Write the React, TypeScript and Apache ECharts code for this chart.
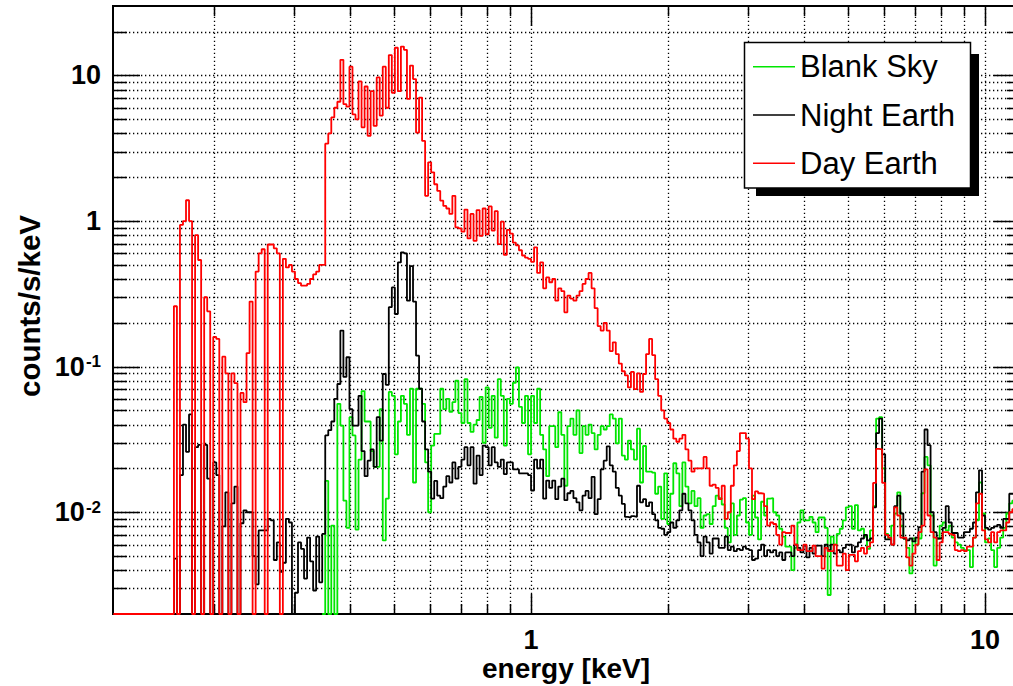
import React, { useEffect, useRef } from 'react';
import * as echarts from 'echarts';

const FONT = '"Liberation Sans", Arial, Helvetica, sans-serif';

// Logarithmic energy channels (keV): edge k = 10^(LOG_E_MIN + k * BIN_DEX)
const LOG_E_MIN = -0.92;
const BIN_DEX = 2 / 300;

const X_MIN = 0.12;
const X_MAX = 12;
const Y_MIN = 0.002;
const Y_MAX = 30;

const xTickValues = [0.2, 0.3, 0.4, 0.5, 0.6, 0.7, 0.8, 0.9, 1, 2, 3, 4, 5, 6, 7, 8, 9, 10];
const yTickValues = [
  0.003, 0.004, 0.005, 0.006, 0.007, 0.008, 0.009,
  0.01, 0.02, 0.03, 0.04, 0.05, 0.06, 0.07, 0.08, 0.09,
  0.1, 0.2, 0.3, 0.4, 0.5, 0.6, 0.7, 0.8, 0.9,
  1, 2, 3, 4, 5, 6, 7, 8, 9, 10, 20,
];

const legendNames = ['Blank Sky', 'Night Earth', 'Day Earth'];

// counts/s/keV per channel; 0 = empty channel
const dayEarthFirstBin = 0;
const dayEarth = [
  0, 0, 0, 0, 0, 0, 0, 0, 0, 0,
  0, 0, 0, 0, 0, 0, 0, 0, 0, 0,
  0.26, 0, 0.94, 1.0, 1.39, 1.0, 0, 0.80, 0.54, 0,
  0.30, 0.24, 0, 0.16, 0.155, 0, 0.117, 0.09, 0, 0.09,
  0.077, 0, 0.066, 0.057, 0.124, 0.28, 0, 0.45, 0.6, 0.64,
  0, 0.69, 0.69, 0.65, 0.6, 0, 0.55, 0.48, 0.5, 0.45,
  0.40, 0.375, 0.36, 0.36, 0.37, 0.40, 0.43, 0.45, 0.5, 0.5,
  3.4, 4.0, 5.15, 6.0, 6.6, 12.8, 6.35, 6.1, 11.5, 5.4,
  5.0, 9.1, 4.4, 8.4, 3.85, 7.8, 4.5, 9.7, 5.3, 11.5,
  6.0, 13.8, 7.6, 15.5, 7.8, 15.8, 15.0, 6.9, 11.7, 9.45,
  4.05, 7.05, 3.55, 1.49, 2.53, 2.16, 1.79, 1.61, 1.38, 1.27,
  1.22, 1.12, 1.49, 0.905, 0.89, 0.845, 1.2, 0.76, 1.12, 0.73,
  1.19, 0.79, 1.22, 0.81, 1.26, 0.86, 1.17, 0.695, 0.99, 0.585,
  0.87, 0.82, 0.71, 0.68, 0.63, 0.58, 0.56, 0.55, 0.525, 0.66,
  0.44, 0.52, 0.345, 0.41, 0.38, 0.40, 0.284, 0.345, 0.33, 0.236,
  0.307, 0.293, 0.284, 0.307, 0.33, 0.37, 0.40, 0.44, 0.345, 0.252,
  0.19, 0.177, 0.20, 0.177, 0.128, 0.147, 0.122, 0.105, 0.093, 0.087,
  0.072, 0.092, 0.07, 0.09, 0.067, 0.089, 0.122, 0.155, 0.12, 0.082,
  0.063, 0.05, 0.044, 0.041, 0.037, 0.032, 0.0305, 0.032, 0.034, 0.027,
  0.0226, 0.019, 0.020, 0.020, 0.020, 0.024, 0.020, 0.0152, 0.0155, 0.0147,
  0.0123, 0.0152, 0.009, 0.010, 0.0152, 0.021, 0.0263, 0.035, 0.035, 0.032,
  0.020, 0.0123, 0.0139, 0.0135, 0.0134, 0.011, 0.0081, 0.0085, 0.0083, 0.007,
  0.006, 0.0073, 0.0072, 0.0072, 0.0081, 0.006, 0.0055, 0.0055, 0.006, 0.0054,
  0.0054, 0.0059, 0.005, 0.005, 0.0041, 0.0057, 0.0054, 0.0054, 0.006, 0.0043,
  0.0043, 0.0052, 0.004, 0.0051, 0.0051, 0.0046, 0.0054, 0.0057, 0.0052, 0.0058,
  0.0062, 0.0159, 0.0272, 0.027, 0.0159, 0.007, 0.0067, 0.006, 0.0108, 0.0095,
  0.0067, 0.0067, 0.0049, 0.0043, 0.0052, 0.006, 0.0073, 0.0081, 0.0197, 0.0095,
  0.0073, 0.0067, 0.0047, 0.0062, 0.0073, 0.0073, 0.0071, 0.007, 0.0055, 0.0054,
  0.0055, 0.0054, 0.0058, 0.0058, 0.0067, 0.0115, 0.0134, 0.0075, 0.0065, 0.0062,
  0.0073, 0.0062, 0.0073, 0.0075, 0.0075, 0.0085, 0.010, 0.0105, 0.011, 0.011,
];

const nightEarthFirstBin = 19;
const nightEarth = [
  0,
  0.0048, 0, 0.018, 0.04, 0.026, 0.047, 0, 0.028, 0.029, 0,
  0.029, 0.017, 0, 0.022, 0.018, 0, 0.008, 0.0137, 0, 0.0115,
  0.015, 0, 0.0084, 0.0103, 0.010, 0.010, 0.005, 0.0032, 0.0075, 0.0075,
  0.0075, 0.009, 0.0088, 0.0047, 0.0062, 0.0039, 0.0045, 0.009, 0.0085, 0,
  0.0028, 0.0062, 0.0056, 0.0035, 0.0067, 0.0046, 0.0029, 0.0068, 0.0033, 0.0071,
  0.0337, 0.0366, 0.042, 0.06, 0.076, 0.177, 0.085, 0.116, 0.051, 0.0394,
  0.0394, 0.063, 0.0263, 0.0177, 0.0226, 0.027, 0.0205, 0.045, 0.031, 0.089,
  0.075, 0.256, 0.35, 0.23, 0.52, 0.61, 0.6, 0.284, 0.49, 0.28,
  0.119, 0.0705, 0.042, 0.027, 0.019, 0.0124, 0.0164, 0.013, 0.0125, 0.015,
  0.0177, 0.016, 0.022, 0.017, 0.0205, 0.023, 0.028, 0.021, 0.028, 0.0157,
  0.0245, 0.018, 0.0287, 0.028, 0.021, 0.028, 0.022, 0.0205, 0.023, 0.0183,
  0.022, 0.022, 0.0197, 0.0197, 0.0185, 0.0185, 0.0185, 0.018, 0.0141, 0.023,
  0.02, 0.023, 0.0124, 0.0165, 0.0147, 0.0165, 0.0123, 0.015, 0.017, 0.0121,
  0.0135, 0.014, 0.0125, 0.0117, 0.0103, 0.013, 0.014, 0.0125, 0.0175, 0.0097,
  0.0123, 0.0197, 0.0226, 0.0283, 0.021, 0.019, 0.0147, 0.013, 0.0114, 0.0093,
  0.0092, 0.0094, 0.0093, 0.0152, 0.0117, 0.0123, 0.011, 0.0117, 0.0097, 0.0088,
  0.0078, 0.0077, 0.007, 0.0073, 0.0085, 0.0078, 0.0088, 0.0103, 0.0134, 0.0115,
  0.0103, 0.0088, 0.007, 0.0062, 0.005, 0.0068, 0.0062, 0.0052, 0.0066, 0.0066,
  0.0057, 0.0057, 0.0068, 0.0055, 0.0058, 0.0054, 0.0056, 0.0055, 0.0058, 0.0056,
  0.0055, 0.0047, 0.0048, 0.0055, 0.006, 0.005, 0.0055, 0.0053, 0.0055, 0.005,
  0.0053, 0.0047, 0.0053, 0.0053, 0.005, 0.006, 0.0057, 0.0053, 0.0059, 0.0049,
  0.0057, 0.0052, 0.0059, 0.0059, 0.005, 0.006, 0.0055, 0.006, 0.0052, 0.0055,
  0.0053, 0.0057, 0.006, 0.006, 0.0053, 0.0058, 0.0062, 0.0066, 0.007, 0.0064,
  0.0066, 0.0108, 0.035, 0.044, 0.025, 0.0065, 0.0065, 0.006, 0.011, 0.013,
  0.0098, 0.0066, 0.0064, 0.0066, 0.0063, 0.0067, 0.0079, 0.019, 0.037, 0.0289,
  0.010, 0.0073, 0.0066, 0.0066, 0.0078, 0.011, 0.0085, 0.0072, 0.0072, 0.0067,
  0.0067, 0.0073, 0.0073, 0.0077, 0.0085, 0.0137, 0.0194, 0.0095, 0.0078, 0.0076,
  0.0078, 0.008, 0.0082, 0.0078, 0.009, 0.009, 0.0134, 0.0134, 0.013, 0.013,
];

const blankSkyFirstBin = 69;
const blankSky = [
  0,
  0.0164, 0, 0.0081, 0, 0.0555, 0.0394, 0.012, 0.0078, 0.045, 0.0337,
  0.0076, 0.023, 0.068, 0.042, 0.042, 0.0263, 0.0205, 0.0205, 0.051, 0.0064,
  0.0124, 0.067, 0.063, 0.025, 0.042, 0.063, 0.0555, 0.034, 0.0705, 0.016,
  0.0705, 0.0705, 0.0555, 0.022, 0.010, 0.0287, 0.0345, 0.0345, 0.0705, 0.051,
  0.060, 0.049, 0.057, 0.080, 0.048, 0.041, 0.082, 0.041, 0.0356, 0.04,
  0.043, 0.062, 0.030, 0.072, 0.038, 0.063, 0.0325, 0.082, 0.063, 0.0287,
  0.06, 0.0555, 0.0775, 0.099, 0.053, 0.041, 0.063, 0.025, 0.063, 0.041,
  0.0705, 0.034, 0.027, 0.0177, 0.039, 0.039, 0.028, 0.0486, 0.034, 0.0152,
  0.039, 0.044, 0.034, 0.05, 0.0255, 0.039, 0.034, 0.04, 0.035, 0.027,
  0.034, 0.039, 0.037, 0.039, 0.047, 0.044, 0.0297, 0.044, 0.0245, 0.023,
  0.031, 0.027, 0.023, 0.0375, 0.016, 0.0285, 0.019, 0.019, 0.0187, 0.0134,
  0.015, 0.009, 0.0185, 0.0083, 0.0134, 0.0217, 0.0185, 0.011, 0.022, 0.015,
  0.0115, 0.014, 0.011, 0.0125, 0.0078, 0.0095, 0.0097, 0.0083, 0.011, 0.013,
  0.0125, 0.0113, 0.0078, 0.0062, 0.0115, 0.007, 0.0095, 0.0122, 0.0125, 0.0085,
  0.007, 0.013, 0.0092, 0.0065, 0.0118, 0.0095, 0.0124, 0.0125, 0.010, 0.0095,
  0.0077, 0.0068, 0.0058, 0.0058, 0.004, 0.0057, 0.0085, 0.0103, 0.0088, 0.0088,
  0.0093, 0.0085, 0.0073, 0.0092, 0.0092, 0.0078, 0.0027, 0.0068, 0.006, 0.0071,
  0.0077, 0.0088, 0.0108, 0.011, 0.0077, 0.0112, 0.0075, 0.0077, 0.0068, 0.0056,
  0.0075, 0.011, 0.044, 0.045, 0.02, 0.0071, 0.0066, 0.0081, 0.0098, 0.0137,
  0.0081, 0.0066, 0.0057, 0.0038, 0.0066, 0.006, 0.0066, 0.0135, 0.024, 0.021,
  0.0095, 0.0043, 0.0066, 0.0081, 0.0085, 0.0075, 0.0081, 0.0067, 0.0062, 0.006,
  0.0057, 0.0055, 0.0055, 0.0042, 0.0067, 0.0088, 0.016, 0.0098, 0.0062, 0.0066,
  0.0055, 0.0042, 0.0057, 0.0067, 0.0078, 0.0098, 0.0115, 0.012, 0.012, 0.012,
];

function binEdge(k: number): number {
  return Math.pow(10, LOG_E_MIN + k * BIN_DEX);
}

function toSteps(values: number[], firstBin: number): number[][] {
  const pts = values.map((v, i) => [binEdge(firstBin + i), v > 0 ? v : Y_MIN]);
  const last = values[values.length - 1];
  pts.push([binEdge(firstBin + values.length), last > 0 ? last : Y_MIN]);
  return pts;
}

function isDecade(v: number): boolean {
  const l = Math.log10(v);
  return Math.abs(l - Math.round(l)) < 1e-6;
}

const yRich = {
  b: { fontSize: 27, fontWeight: 'bold', fontFamily: FONT, color: '#000', lineHeight: 27, verticalAlign: 'bottom' },
  s: { fontSize: 17, fontWeight: 'bold', fontFamily: FONT, color: '#000', lineHeight: 17, verticalAlign: 'top', padding: [0, 0, 20, 1] },
};

const xRich = {
  b: { fontSize: 27, fontWeight: 'bold', fontFamily: FONT, color: '#000', lineHeight: 21 },
};

function yLabel(v: number): string {
  if (!isDecade(v)) return '';
  const r = Math.round(Math.log10(v));
  if (r === 0) return '{b|1}';
  if (r === 1) return '{b|10}';
  return '{b|10}{s|' + r + '}';
}

function xLabel(v: number): string {
  if (!isDecade(v)) return '';
  const r = Math.round(Math.log10(v));
  if (r === 0) return '{b|1}';
  if (r === 1) return '{b|10}';
  return '';
}

function px(v: number): number {
  return Math.round(v) + 0.5;
}

function buildOption(): any {
  const tickStyle = { stroke: '#000', lineWidth: 1.5 };
  const gridStyle = { stroke: '#000', lineWidth: 1.3, lineDash: [1.3, 2.7] };

  const xGridSeries = {
    type: 'custom',
    coordinateSystem: 'cartesian2d',
    silent: true,
    z: 1,
    data: xTickValues.map((v) => [v, Y_MIN]),
    renderItem: (params: any, api: any) => {
      const v = api.value(0);
      const b = api.coord([v, Y_MIN]);
      const t = api.coord([v, Y_MAX]);
      const len = isDecade(v) ? 20 : 10;
      const x = px(b[0]);
      return {
        type: 'group',
        children: [
          { type: 'line', shape: { x1: x, y1: b[1], x2: x, y2: t[1] }, style: gridStyle },
          { type: 'line', shape: { x1: x, y1: b[1], x2: x, y2: b[1] - len }, style: tickStyle },
          { type: 'line', shape: { x1: x, y1: t[1], x2: x, y2: t[1] + len }, style: tickStyle },
        ],
      };
    },
  };

  const yGridSeries = {
    type: 'custom',
    coordinateSystem: 'cartesian2d',
    silent: true,
    z: 1,
    data: yTickValues.map((v) => [X_MIN, v]),
    renderItem: (params: any, api: any) => {
      const v = api.value(1);
      const l = api.coord([X_MIN, v]);
      const r = api.coord([X_MAX, v]);
      const len = isDecade(v) ? 27 : 14;
      const y = px(l[1]);
      return {
        type: 'group',
        children: [
          { type: 'line', shape: { x1: l[0], y1: y, x2: r[0], y2: y }, style: gridStyle },
          { type: 'line', shape: { x1: l[0], y1: y, x2: l[0] + len, y2: y }, style: tickStyle },
          { type: 'line', shape: { x1: r[0], y1: y, x2: r[0] - len, y2: y }, style: tickStyle },
        ],
      };
    },
  };

  const lineSeries = (name: string, color: string, values: number[], first: number, z: number) => ({
    name,
    type: 'line',
    step: 'end',
    symbol: 'none',
    showSymbol: false,
    color,
    clip: true,
    z,
    lineStyle: { color, width: 1.8 },
    itemStyle: { color },
    emphasis: { disabled: true },
    data: toSteps(values, first),
  });

  return {
    animation: false,
    backgroundColor: '#ffffff',
    textStyle: { fontFamily: FONT },
    grid: {
      left: 113,
      top: 6,
      width: 908,
      height: 608,
      show: true,
      borderColor: '#000',
      borderWidth: 2,
      backgroundColor: 'transparent',
      containLabel: false,
      outerBoundsMode: 'none',
    },
    xAxis: {
      type: 'log',
      logBase: 10,
      min: X_MIN,
      max: X_MAX,
      axisLine: { show: false },
      axisTick: { show: false },
      splitLine: { show: false },
      minorTick: { show: false },
      minorSplitLine: { show: false },
      axisLabel: { margin: 15, formatter: xLabel, rich: xRich, color: '#000' },
    },
    yAxis: {
      type: 'log',
      logBase: 10,
      min: Y_MIN,
      max: Y_MAX,
      axisLine: { show: false },
      axisTick: { show: false },
      splitLine: { show: false },
      minorTick: { show: false },
      minorSplitLine: { show: false },
      axisLabel: { margin: 12, formatter: yLabel, rich: yRich, color: '#000' },
    },
    legend: {
      data: legendNames,
      orient: 'vertical',
      left: 753,
      top: 51.2,
      padding: 0,
      itemWidth: 42,
      itemHeight: 1.5,
      itemGap: 17.3,
      icon: 'rect',
      selectedMode: false,
      z: 120,
      itemStyle: { borderWidth: 0 },
      textStyle: { fontSize: 31, fontFamily: FONT, color: '#000', lineHeight: 31 },
    },
    graphic: [
      { type: 'rect', z: 100, shape: { x: 756, y: 54, width: 223, height: 142 }, style: { fill: '#000' }, silent: true },
      {
        type: 'rect', z: 101, shape: { x: 744.5, y: 42.5, width: 226, height: 145.5 },
        style: { fill: '#fff', stroke: '#000', lineWidth: 1.5 }, silent: true,
      },
      {
        type: 'text', z: 101, x: 566, y: 668,
        style: { text: 'energy [keV]', fontSize: 28, fontWeight: 'bold', fontFamily: FONT, fill: '#000', align: 'center', verticalAlign: 'middle' },
      },
      {
        type: 'text', z: 101, x: 29, y: 306, rotation: Math.PI / 2,
        style: { text: 'counts/s/keV', fontSize: 29.5, fontWeight: 'bold', fontFamily: FONT, fill: '#000', align: 'center', verticalAlign: 'middle' },
      },
    ],
    series: [
      xGridSeries,
      yGridSeries,
      lineSeries('Blank Sky', '#00e600', blankSky, blankSkyFirstBin, 3),
      lineSeries('Night Earth', '#000000', nightEarth, nightEarthFirstBin, 4),
      lineSeries('Day Earth', '#ff0000', dayEarth, dayEarthFirstBin, 5),
    ],
  };
}

export default function App() {
  const ref = useRef<HTMLDivElement>(null);
  useEffect(() => {
    if (!ref.current) return;
    const chart = echarts.init(ref.current, null, { renderer: 'svg' });
    chart.setOption(buildOption());
    return () => {
      chart.dispose();
    };
  }, []);
  return (
    <div style={{ position: 'fixed', left: 0, top: 0, width: 1013, height: 686, overflow: 'hidden', background: '#fff' }}>
      <div ref={ref} style={{ width: 1030, height: 686 }} />
    </div>
  );
}
